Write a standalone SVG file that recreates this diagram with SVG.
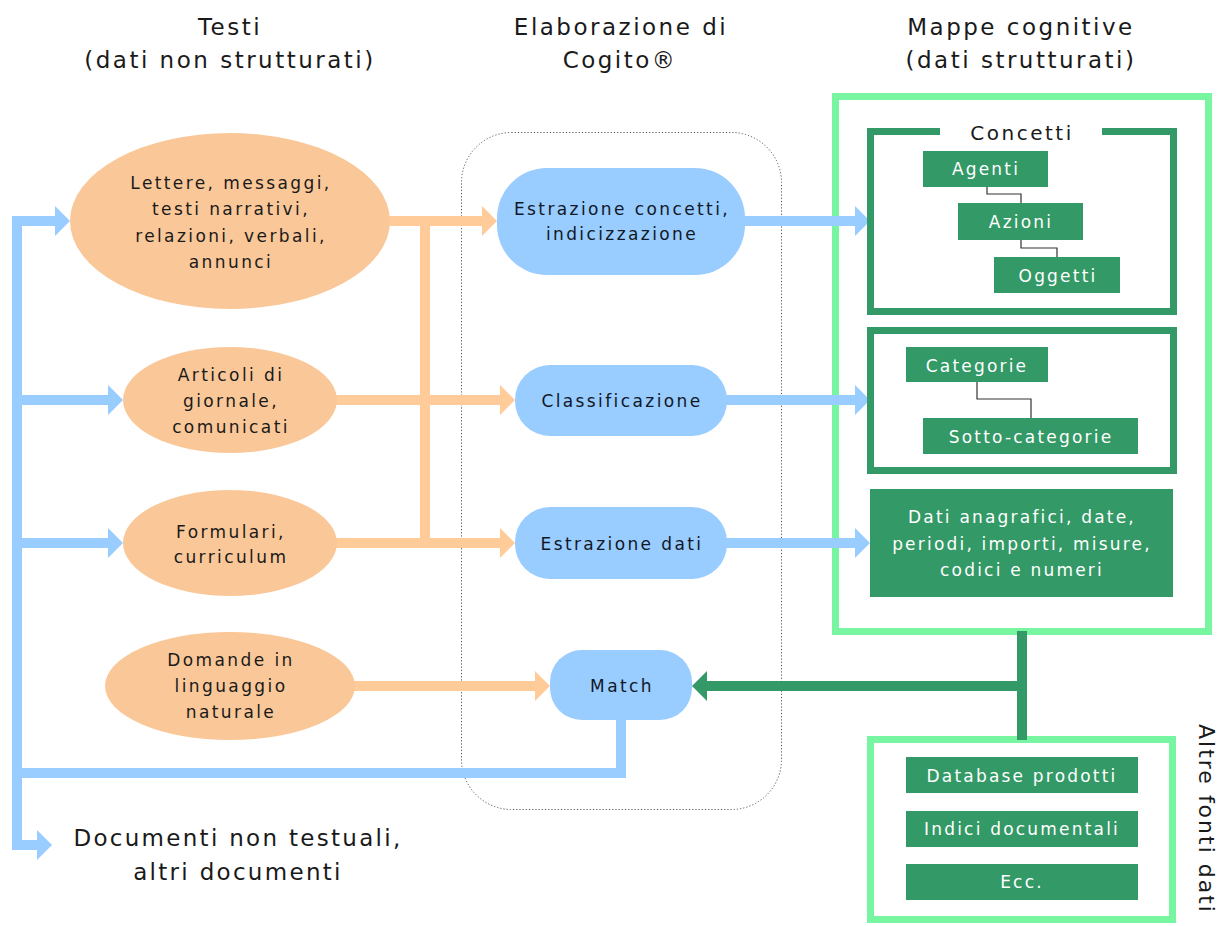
<svg xmlns="http://www.w3.org/2000/svg" width="1230" height="926" viewBox="0 0 1230 926">
  <style>
    text { font-family: "DejaVu Sans", Verdana, sans-serif; text-anchor: middle; }
    .title { font-size: 23px; letter-spacing: 2.5px; fill: #1a1a1a; }
    .src { fill: #fac898; }
    .src-t { font-size: 17px; letter-spacing: 2.4px; fill: #1a1a1a; }
    .proc { fill: #99ccff; }
    .proc-t { font-size: 17px; letter-spacing: 2.4px; fill: #111827; }
    .item { fill: #339966; }
    .item-t { font-size: 17px; letter-spacing: 2.2px; fill: #ffffff; }
    .frame-light { fill: #ffffff; stroke: #78f5a0; stroke-width: 7; }
    .frame-dark { fill: none; stroke: #339966; stroke-width: 7; }
    .link { fill: none; stroke: #333333; stroke-width: 1.2; }
    .flow-blue { fill: none; stroke: #99ccff; stroke-width: 10; stroke-linejoin: miter; }
    .flow-orange { fill: none; stroke: #ffcc99; stroke-width: 10; stroke-linejoin: miter; }
    .flow-green { fill: none; stroke: #339966; stroke-width: 10; }
  </style>
  <defs>
    <marker id="headBlue" viewBox="0 0 15 30" markerWidth="15" markerHeight="30" refX="0" refY="15" orient="auto" markerUnits="userSpaceOnUse">
      <path d="M0,0 L15,15 L0,30 Z" fill="#99ccff"/>
    </marker>
    <marker id="headOrange" viewBox="0 0 15 30" markerWidth="15" markerHeight="30" refX="0" refY="15" orient="auto" markerUnits="userSpaceOnUse">
      <path d="M0,0 L15,15 L0,30 Z" fill="#ffcc99"/>
    </marker>
    <marker id="headGreen" viewBox="0 0 15 30" markerWidth="15" markerHeight="30" refX="0" refY="15" orient="auto" markerUnits="userSpaceOnUse">
      <path d="M0,0 L15,15 L0,30 Z" fill="#339966"/>
    </marker>
  </defs>

  <rect width="1230" height="926" fill="#ffffff"/>

  <!-- column headings -->
  <g id="headings">
    <text class="title" x="230" y="35">Testi</text>
    <text class="title" x="230" y="68">(dati non strutturati)</text>
    <text class="title" x="621" y="35">Elaborazione di</text>
    <text class="title" x="620" y="68">Cogito®</text>
    <text class="title" x="1021" y="35">Mappe cognitive</text>
    <text class="title" x="1021" y="68">(dati strutturati)</text>
  </g>

  <!-- processing area -->
  <g id="processing-area">
    <rect x="461.5" y="132.5" width="320" height="677" rx="50" ry="50" fill="none" stroke="#555555" stroke-width="1" stroke-dasharray="1.2,2"/>
  </g>

  <!-- structured data frames -->
  <g id="cognitive-maps">
    <rect class="frame-light" x="835.5" y="96.5" width="373" height="535"/>
  </g>
  <g id="other-sources">
    <rect class="frame-light" x="870.5" y="739.5" width="302" height="180"/>
    <text x="1199" y="724" transform="rotate(90 1199 724)" style="text-anchor:start; font-size:22px; letter-spacing:2px; fill:#1a1a1a;">Altre fonti dati</text>
  </g>

  <!-- connectors -->
  <g id="connectors">
    <!-- blue feedback trunk on the left -->
    <path class="flow-blue" d="M55,221 H17 V845 H37" marker-end="url(#headBlue)"/>
    <path class="flow-blue" d="M17,221 H55" marker-end="url(#headBlue)"/>
    <path class="flow-blue" d="M17,400 H108" marker-end="url(#headBlue)"/>
    <path class="flow-blue" d="M17,543 H108" marker-end="url(#headBlue)"/>
    <path class="flow-blue" d="M621,715 V773 H17"/>
    <!-- orange text inputs -->
    <path class="flow-orange" d="M385,221 H482" marker-end="url(#headOrange)"/>
    <path class="flow-orange" d="M425,221 V543"/>
    <path class="flow-orange" d="M332,400 H500" marker-end="url(#headOrange)"/>
    <path class="flow-orange" d="M332,543 H500" marker-end="url(#headOrange)"/>
    <path class="flow-orange" d="M350,686 H535" marker-end="url(#headOrange)"/>
    <!-- blue outputs to maps -->
    <path class="flow-blue" d="M740,221 H855" marker-end="url(#headBlue)"/>
    <path class="flow-blue" d="M722,400 H855" marker-end="url(#headBlue)"/>
    <path class="flow-blue" d="M722,543 H855" marker-end="url(#headBlue)"/>
    <!-- green link to match -->
    <path class="flow-green" d="M1022,631 V740"/>
    <path class="flow-green" d="M1027,686 H707" marker-end="url(#headGreen)"/>
  </g>

  <!-- text sources -->
  <g id="src-letters">
    <ellipse class="src" cx="230" cy="221" rx="160" ry="88"/>
    <text class="src-t" x="231" y="189">Lettere, messaggi,</text>
    <text class="src-t" x="231" y="215">testi narrativi,</text>
    <text class="src-t" x="231" y="242">relazioni, verbali,</text>
    <text class="src-t" x="231" y="268">annunci</text>
  </g>
  <g id="src-articles">
    <ellipse class="src" cx="230" cy="400" rx="107" ry="53"/>
    <text class="src-t" x="231" y="381">Articoli di</text>
    <text class="src-t" x="231" y="407">giornale,</text>
    <text class="src-t" x="231" y="433">comunicati</text>
  </g>
  <g id="src-forms">
    <ellipse class="src" cx="230" cy="543" rx="107" ry="53"/>
    <text class="src-t" x="231" y="538">Formulari,</text>
    <text class="src-t" x="231" y="563">curriculum</text>
  </g>
  <g id="src-questions">
    <ellipse class="src" cx="230" cy="686" rx="125" ry="54"/>
    <text class="src-t" x="231" y="666">Domande in</text>
    <text class="src-t" x="231" y="692">linguaggio</text>
    <text class="src-t" x="231" y="718">naturale</text>
  </g>

  <!-- processing steps -->
  <g id="proc-concepts">
    <rect class="proc" x="497" y="168" width="248" height="107" rx="50" ry="50"/>
    <text class="proc-t" x="622" y="215">Estrazione concetti,</text>
    <text class="proc-t" x="622" y="240">indicizzazione</text>
  </g>
  <g id="proc-classification">
    <rect class="proc" x="515" y="365" width="212" height="71" rx="35" ry="35"/>
    <text class="proc-t" x="622" y="407">Classificazione</text>
  </g>
  <g id="proc-data">
    <rect class="proc" x="515" y="507" width="212" height="72" rx="35" ry="35"/>
    <text class="proc-t" x="622" y="550">Estrazione dati</text>
  </g>
  <g id="proc-match">
    <rect class="proc" x="550" y="650" width="142" height="70" rx="32" ry="32"/>
    <text class="proc-t" x="622" y="692">Match</text>
  </g>

  <!-- concepts frame -->
  <g id="map-concepts">
    <path class="frame-dark" d="M940,131.5 H870.5 V311.5 H1173.5 V131.5 H1102"/>
    <text x="1022" y="140" style="font-size:20px; letter-spacing:2.5px; fill:#1a1a1a;">Concetti</text>
    <path class="link" d="M987,187 V194 H1021 V203"/>
    <path class="link" d="M1021,240 V248 H1057 V257"/>
    <rect class="item" x="923" y="151" width="125" height="36"/>
    <text class="item-t" x="986" y="175">Agenti</text>
    <rect class="item" x="958" y="203" width="125" height="37"/>
    <text class="item-t" x="1021" y="228">Azioni</text>
    <rect class="item" x="994" y="257" width="126" height="36"/>
    <text class="item-t" x="1058" y="282">Oggetti</text>
  </g>

  <!-- categories frame -->
  <g id="map-categories">
    <rect class="frame-dark" x="870.5" y="330.5" width="303" height="140"/>
    <path class="link" d="M977,382 V399 H1031 V418"/>
    <rect class="item" x="906" y="347" width="142" height="35"/>
    <text class="item-t" x="977" y="372">Categorie</text>
    <rect class="item" x="923" y="418" width="215" height="36"/>
    <text class="item-t" x="1031" y="443">Sotto-categorie</text>
  </g>

  <!-- extracted data -->
  <g id="map-data">
    <rect class="item" x="870" y="489" width="303" height="108"/>
    <text class="item-t" x="1022" y="523">Dati anagrafici, date,</text>
    <text class="item-t" x="1022" y="550">periodi, importi, misure,</text>
    <text class="item-t" x="1022" y="576">codici e numeri</text>
  </g>

  <!-- other data sources -->
  <g id="src-products">
    <rect class="item" x="906" y="757" width="232" height="36"/>
    <text class="item-t" x="1022" y="782">Database prodotti</text>
  </g>
  <g id="src-indexes">
    <rect class="item" x="906" y="811" width="232" height="36"/>
    <text class="item-t" x="1022" y="835">Indici documentali</text>
  </g>
  <g id="src-etc">
    <rect class="item" x="906" y="864" width="232" height="36"/>
    <text class="item-t" x="1022" y="888">Ecc.</text>
  </g>

  <!-- non-text documents -->
  <g id="non-text-docs">
    <text x="238" y="846" style="font-size:23px; letter-spacing:2.3px; fill:#1a1a1a;">Documenti non testuali,</text>
    <text x="238" y="880" style="font-size:23px; letter-spacing:2.3px; fill:#1a1a1a;">altri documenti</text>
  </g>
</svg>
